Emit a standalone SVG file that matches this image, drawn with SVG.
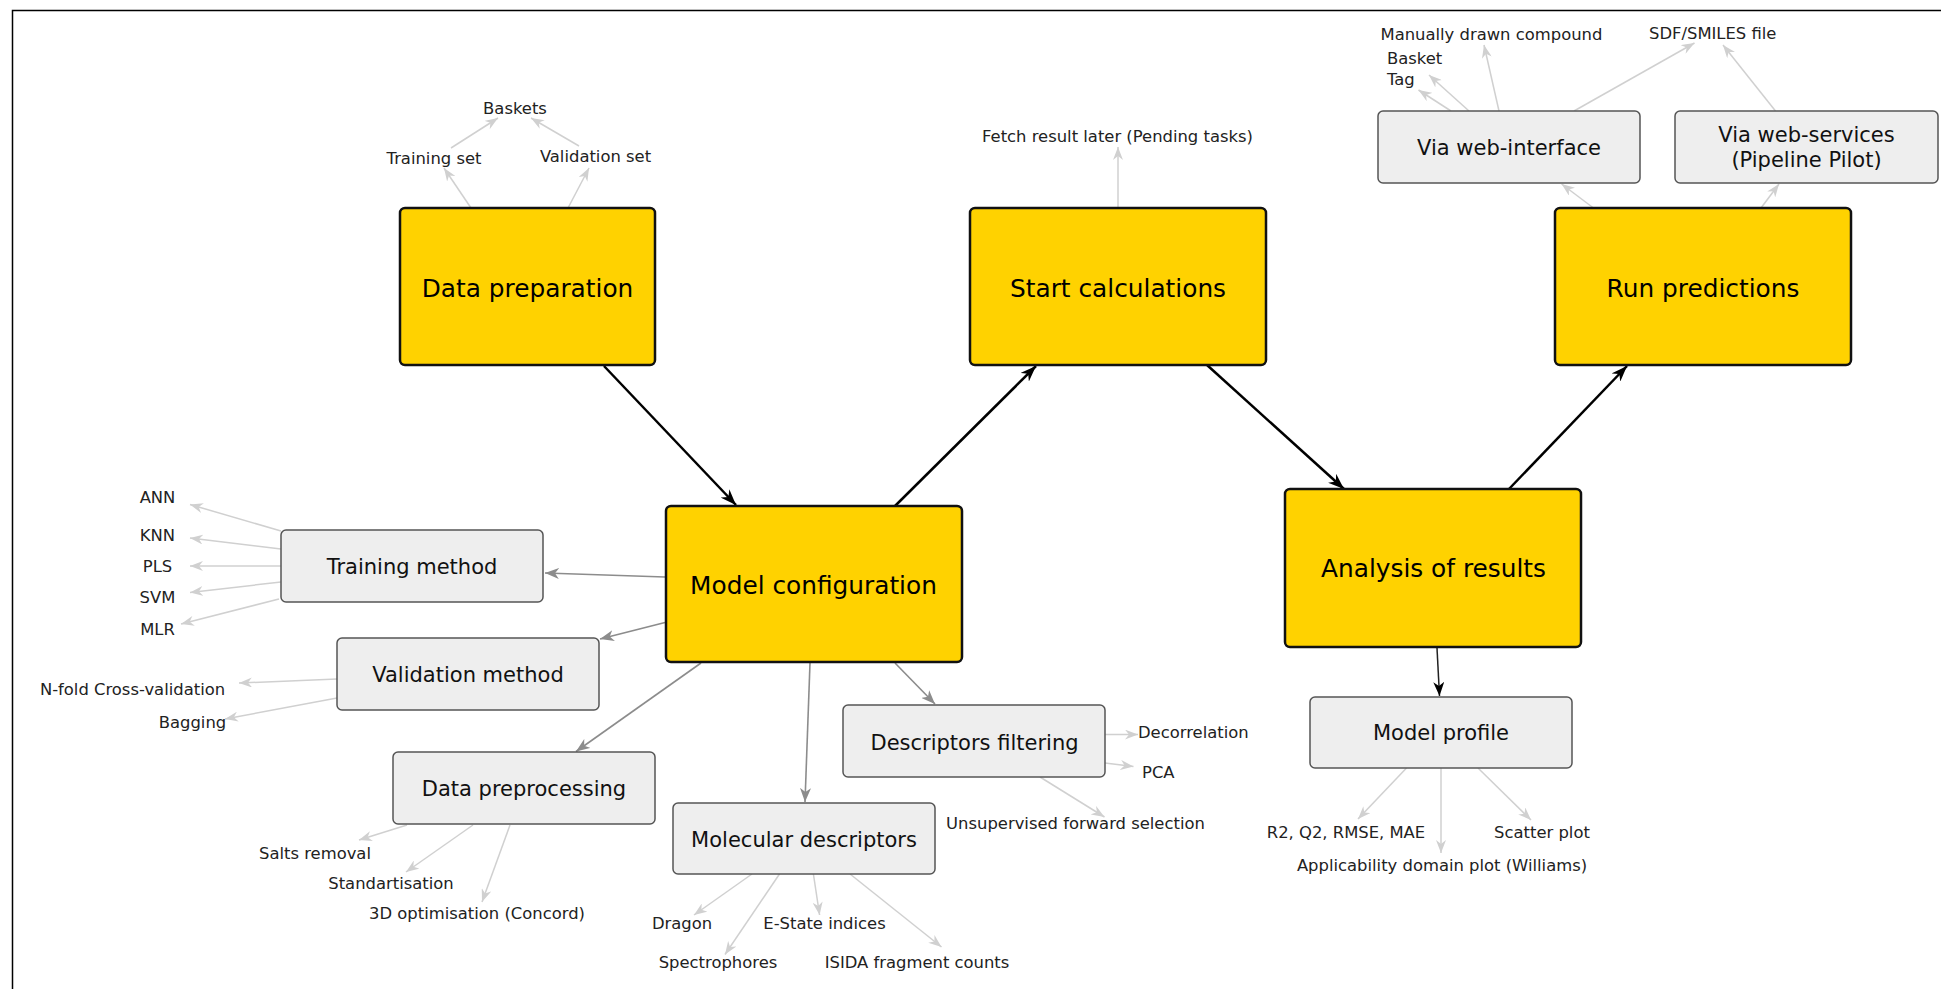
<svg xmlns="http://www.w3.org/2000/svg" width="1941" height="989" viewBox="0 0 1941 989">
<style>
  .main rect { fill: #FFD200; stroke: #111; stroke-width: 2.5; }
  .main text { font-family: "DejaVu Sans", sans-serif; font-size: 24.8px; fill: #000; text-anchor: middle; }
  .sub rect { fill: #EEEEEE; stroke: #555; stroke-width: 1.5; }
  .sub text { font-family: "DejaVu Sans", sans-serif; font-size: 21px; fill: #111; text-anchor: middle; }
  .lbl { font-family: "DejaVu Sans", sans-serif; font-size: 16.4px; fill: #222; }
  .m { text-anchor: middle; }
  .s { text-anchor: start; }
  .c-black { stroke: #000; stroke-width: 2.5; fill: none; marker-end: url(#ahBlack); }
  .c-thin { stroke: #222; stroke-width: 1.5; fill: none; marker-end: url(#ahBlackSmall); }
  .c-mid { stroke: #8c8c8c; stroke-width: 1.6; fill: none; marker-end: url(#ahMid); }
  .c-light { stroke: #d0d0d0; stroke-width: 1.5; fill: none; marker-end: url(#ahLight); }
</style>
<defs>
  <marker id="ahBlack" markerUnits="userSpaceOnUse" viewBox="0 0 16 12" refX="16" refY="6" markerWidth="16" markerHeight="12" orient="auto">
    <path d="M0,0 L16,6 L0,12 L5,6 z" fill="#000"/>
  </marker>
  <marker id="ahBlackSmall" markerUnits="userSpaceOnUse" viewBox="0 0 14 11" refX="14" refY="5.5" markerWidth="14" markerHeight="11" orient="auto">
    <path d="M0,0 L14,5.5 L0,11 L4,5.5 z" fill="#000"/>
  </marker>
  <marker id="ahMid" markerUnits="userSpaceOnUse" viewBox="0 0 14 11" refX="14" refY="5.5" markerWidth="14" markerHeight="11" orient="auto">
    <path d="M0,0 L14,5.5 L0,11 L4,5.5 z" fill="#8c8c8c"/>
  </marker>
  <marker id="ahLight" markerUnits="userSpaceOnUse" viewBox="0 0 13 10" refX="13" refY="5" markerWidth="13" markerHeight="10" orient="auto">
    <path d="M0,0 L13,5 L0,10 L4,5 z" fill="#d0d0d0"/>
  </marker>
</defs>
<rect width="1941" height="989" fill="#fff"/>
<path d="M12.5,989 V10.5 H1941" fill="none" stroke="#000" stroke-width="1.5"/>

<g id="connectors">
  <line class="c-black" x1="604" y1="366" x2="736" y2="505"/>
  <line class="c-black" x1="895" y1="506" x2="1036" y2="366"/>
  <line class="c-black" x1="1207" y1="365" x2="1344" y2="489"/>
  <line class="c-black" x1="1509" y1="489" x2="1627" y2="366"/>
  <line class="c-thin" x1="1437" y1="648" x2="1439.5" y2="696"/>

  <line class="c-mid" x1="665" y1="577" x2="545" y2="573"/>
  <line class="c-mid" x1="665" y1="622.5" x2="600" y2="639"/>
  <line class="c-mid" x1="701" y1="663" x2="576" y2="751.5"/>
  <line class="c-mid" x1="810" y1="663" x2="805" y2="802"/>
  <line class="c-mid" x1="895" y1="663" x2="935" y2="704"/>

  <line class="c-light" x1="471" y1="208" x2="444" y2="168"/>
  <line class="c-light" x1="568" y1="208" x2="589" y2="168"/>
  <line class="c-light" x1="451" y1="148" x2="498" y2="118"/>
  <line class="c-light" x1="579" y1="146" x2="531" y2="118"/>
  <line class="c-light" x1="1118" y1="208" x2="1118" y2="147"/>
  <line class="c-light" x1="1593.5" y1="208" x2="1561.6" y2="184"/>
  <line class="c-light" x1="1761" y1="208" x2="1779" y2="184"/>
  <line class="c-light" x1="1451" y1="111" x2="1418.5" y2="90"/>
  <line class="c-light" x1="1469" y1="111" x2="1429" y2="75"/>
  <line class="c-light" x1="1499" y1="111" x2="1484" y2="45"/>
  <line class="c-light" x1="1574" y1="111" x2="1694.5" y2="43"/>
  <line class="c-light" x1="1775.5" y1="111" x2="1723" y2="45"/>

  <line class="c-light" x1="281" y1="531" x2="190" y2="504.5"/>
  <line class="c-light" x1="281" y1="549" x2="190" y2="538"/>
  <line class="c-light" x1="281" y1="566" x2="190" y2="566"/>
  <line class="c-light" x1="281" y1="582" x2="190" y2="592.5"/>
  <line class="c-light" x1="279" y1="599" x2="181" y2="624"/>

  <line class="c-light" x1="337" y1="679" x2="239" y2="683"/>
  <line class="c-light" x1="337" y1="698" x2="225" y2="719"/>

  <line class="c-light" x1="407" y1="825" x2="359" y2="840"/>
  <line class="c-light" x1="473" y1="825" x2="406" y2="872"/>
  <line class="c-light" x1="510" y1="825" x2="482" y2="902"/>

  <line class="c-light" x1="752" y1="874" x2="694" y2="915"/>
  <line class="c-light" x1="779.5" y1="874" x2="725" y2="954.5"/>
  <line class="c-light" x1="813.4" y1="874" x2="819.6" y2="915"/>
  <line class="c-light" x1="850" y1="874" x2="941.5" y2="947"/>

  <line class="c-light" x1="1105" y1="734.6" x2="1138" y2="734.6"/>
  <line class="c-light" x1="1105" y1="763" x2="1133.5" y2="766.5"/>
  <line class="c-light" x1="1040" y1="777" x2="1104.5" y2="817"/>

  <line class="c-light" x1="1406.5" y1="768" x2="1358" y2="819"/>
  <line class="c-light" x1="1441" y1="768" x2="1441" y2="853"/>
  <line class="c-light" x1="1478" y1="768" x2="1531" y2="820"/>
</g>

<g id="data-preparation" class="main">
  <rect x="400" y="208" width="255" height="157" rx="5"/>
  <text x="527.5" y="297">Data preparation</text>
</g>
<g id="start-calculations" class="main">
  <rect x="970" y="208" width="296" height="157" rx="5"/>
  <text x="1118" y="297">Start calculations</text>
</g>
<g id="run-predictions" class="main">
  <rect x="1555" y="208" width="296" height="157" rx="5"/>
  <text x="1703" y="297">Run predictions</text>
</g>
<g id="model-configuration" class="main">
  <rect x="666" y="506" width="296" height="156" rx="5"/>
  <text x="813.5" y="594">Model configuration</text>
</g>
<g id="analysis-of-results" class="main">
  <rect x="1285" y="489" width="296" height="158" rx="5"/>
  <text x="1433.5" y="577">Analysis of results</text>
</g>

<g id="training-method" class="sub">
  <rect x="281" y="530" width="262" height="72" rx="5"/>
  <text x="412" y="574">Training method</text>
</g>
<g id="validation-method" class="sub">
  <rect x="337" y="638" width="262" height="72" rx="5"/>
  <text x="468" y="682">Validation method</text>
</g>
<g id="data-preprocessing" class="sub">
  <rect x="393" y="752" width="262" height="72" rx="5"/>
  <text x="524" y="796">Data preprocessing</text>
</g>
<g id="molecular-descriptors" class="sub">
  <rect x="673" y="803" width="262" height="71" rx="5"/>
  <text x="804" y="847">Molecular descriptors</text>
</g>
<g id="descriptors-filtering" class="sub">
  <rect x="843" y="705" width="262" height="72" rx="5"/>
  <text x="974.5" y="750">Descriptors filtering</text>
</g>
<g id="model-profile" class="sub">
  <rect x="1310" y="697" width="262" height="71" rx="5"/>
  <text x="1441" y="740">Model profile</text>
</g>
<g id="via-web-interface" class="sub">
  <rect x="1378" y="111" width="262" height="72" rx="5"/>
  <text x="1509" y="155">Via web-interface</text>
</g>
<g id="via-web-services" class="sub">
  <rect x="1675" y="111" width="263" height="72" rx="5"/>
  <text x="1806.5" y="142">Via web-services</text>
  <text x="1806.5" y="167">(Pipeline Pilot)</text>
</g>

<g id="labels">
  <text id="baskets" class="lbl m" x="515" y="114">Baskets</text>
  <text id="training-set" class="lbl m" x="434" y="164">Training set</text>
  <text id="validation-set" class="lbl m" x="595.5" y="162">Validation set</text>
  <text id="fetch-result" class="lbl m" x="1117.5" y="142">Fetch result later (Pending tasks)</text>
  <text id="manually-drawn" class="lbl s" x="1380.5" y="40">Manually drawn compound</text>
  <text id="sdf-smiles" class="lbl s" x="1649" y="39">SDF/SMILES file</text>
  <text id="basket" class="lbl s" x="1387" y="64">Basket</text>
  <text id="tag" class="lbl s" x="1387" y="85">Tag</text>
  <text id="ann" class="lbl m" x="157.5" y="503">ANN</text>
  <text id="knn" class="lbl m" x="157.5" y="541">KNN</text>
  <text id="pls" class="lbl m" x="157.5" y="572">PLS</text>
  <text id="svm" class="lbl m" x="157.5" y="603">SVM</text>
  <text id="mlr" class="lbl m" x="157.5" y="635">MLR</text>
  <text id="nfold" class="lbl m" x="132.5" y="695">N-fold Cross-validation</text>
  <text id="bagging" class="lbl m" x="192.5" y="728">Bagging</text>
  <text id="salts" class="lbl m" x="315" y="859">Salts removal</text>
  <text id="standartisation" class="lbl m" x="391" y="889">Standartisation</text>
  <text id="opt3d" class="lbl m" x="477" y="919">3D optimisation (Concord)</text>
  <text id="dragon" class="lbl m" x="682" y="929">Dragon</text>
  <text id="estate" class="lbl m" x="824.5" y="929">E-State indices</text>
  <text id="spectrophores" class="lbl m" x="718" y="968">Spectrophores</text>
  <text id="isida" class="lbl m" x="917" y="968">ISIDA fragment counts</text>
  <text id="decorrelation" class="lbl s" x="1138" y="738">Decorrelation</text>
  <text id="pca" class="lbl s" x="1142" y="778">PCA</text>
  <text id="unsupervised" class="lbl m" x="1075.5" y="829">Unsupervised forward selection</text>
  <text id="r2q2" class="lbl m" x="1346" y="838">R2, Q2, RMSE, MAE</text>
  <text id="scatter" class="lbl m" x="1542" y="838">Scatter plot</text>
  <text id="applicability" class="lbl m" x="1442" y="871">Applicability domain plot (Williams)</text>
</g>
</svg>
